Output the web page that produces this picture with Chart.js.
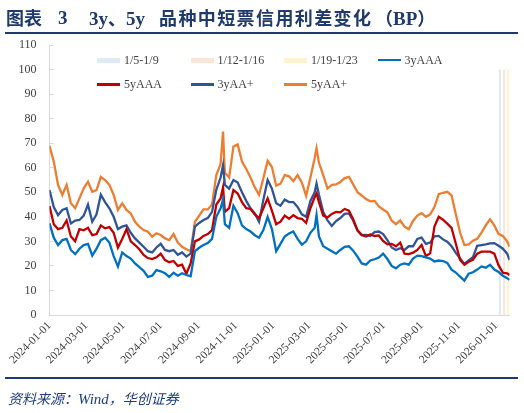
<!DOCTYPE html>
<html>
<head>
<meta charset="utf-8">
<script src="https://cdn.jsdelivr.net/npm/chart.js@4.4.1/dist/chart.umd.min.js"></script>
<style>
body { margin: 0; background: #fff; }
#wrap { position: relative; width: 524px; height: 413px; overflow: hidden; }
#wrap canvas { position: absolute; left: 0; top: 0; }
.t { position: absolute; top: 7px; line-height: 21px; font-size: 18px; font-weight: bold; color: #1f3a6b; white-space: nowrap; }
.cn { font-family: "Noto Sans CJK SC", sans-serif; }
.en { font-family: "Liberation Serif", serif; font-size: 19px; }
.rule { position: absolute; left: 5px; width: 513px; height: 2px; background: #1f3a6b; }
.lg { position: absolute; font-family: "Liberation Serif", serif; font-size: 12px; color: #404040; line-height: 14px; white-space: nowrap; }
.sw { position: absolute; width: 23px; }
#src { position: absolute; left: 8px; top: 388px; font-family: "Noto Sans CJK SC", sans-serif; font-style: italic; font-size: 14px; color: #1f3c88; white-space: nowrap; }
#src .en { font-size: 15px; font-style: italic; }
</style>
</head>
<body>
<div id="wrap">
  <canvas id="myChart" width="524" height="413"></canvas>
  <div class="t cn" style="left:6px">图表</div>
  <div class="t en" style="left:58px">3</div>
  <div class="t en" style="left:89px">3y<span class="cn" style="font-size:18px">、</span>5y</div>
  <div class="t cn" style="left:159px;letter-spacing:1.4px">品种中短票信用利差变化</div>
  <div class="t cn" style="left:375px">（<span class="en">BP</span>）</div>
  <div class="rule" style="top:32px"></div>
  <div id="legend"></div>
  <div class="rule" style="top:377px"></div>
  <div id="src">资料来源：<span class="en">Wind</span>，华创证券</div>
</div>
<script>
//Chart data, weekly readings (BP)
var dates = ['2024-01-01', '2024-01-08', '2024-01-15', '2024-01-22', '2024-01-29', '2024-02-05', '2024-02-12', '2024-02-19', '2024-02-26',
    '2024-03-04', '2024-03-11', '2024-03-18', '2024-03-25', '2024-04-01', '2024-04-08', '2024-04-15', '2024-04-22', '2024-04-29',
    '2024-05-06', '2024-05-13', '2024-05-20', '2024-05-27', '2024-06-03', '2024-06-10', '2024-06-17', '2024-06-24', '2024-07-01',
    '2024-07-08', '2024-07-15', '2024-07-22', '2024-07-29', '2024-08-05', '2024-08-12', '2024-08-19', '2024-08-26', '2024-09-02',
    '2024-09-09', '2024-09-16', '2024-09-23', '2024-09-30', '2024-10-07', '2024-10-11', '2024-10-14', '2024-10-21', '2024-10-28',
    '2024-11-04', '2024-11-11', '2024-11-18', '2024-11-25', '2024-12-02', '2024-12-09', '2024-12-16', '2024-12-23', '2024-12-30',
    '2025-01-06', '2025-01-13', '2025-01-20', '2025-01-27', '2025-02-03', '2025-02-10', '2025-02-17', '2025-02-24', '2025-03-03',
    '2025-03-10', '2025-03-13', '2025-03-17', '2025-03-24', '2025-03-31', '2025-04-07', '2025-04-14', '2025-04-21', '2025-04-28',
    '2025-05-05', '2025-05-12', '2025-05-19', '2025-05-26', '2025-06-02', '2025-06-09', '2025-06-16', '2025-06-23', '2025-06-30',
    '2025-07-07', '2025-07-14', '2025-07-21', '2025-07-28', '2025-08-04', '2025-08-11', '2025-08-18', '2025-08-25', '2025-09-01',
    '2025-09-08', '2025-09-15', '2025-09-22', '2025-09-29', '2025-10-06', '2025-10-13', '2025-10-20', '2025-10-27', '2025-11-03',
    '2025-11-10', '2025-11-17', '2025-11-24', '2025-12-01', '2025-12-08', '2025-12-15', '2025-12-22', '2025-12-29', '2026-01-05',
    '2026-01-12', '2026-01-19', '2026-01-23'];

var y3AAA = [37.3, 31.5, 28.5, 30.5, 31, 26.5, 24.8, 27, 28.5, 29, 24.2, 27, 30.5, 31.5, 29.5, 24, 19.7, 25.5, 24, 23, 21, 19.5, 18, 15.5, 16, 18.3, 17.8, 17,
    15.5, 17.2, 16, 17, 16.3, 15.8, 26, 27.4, 28.5, 29.3, 31, 40, 43.5, 47, 37, 35.5, 44.5, 41.5, 36.5, 35, 34, 32.5, 31.5, 34.6, 40, 35,
    26, 29, 32, 33.2, 34, 31, 28.7, 30, 33.5, 35.5, 40.7, 32, 28, 27, 26, 25, 26.5, 27.8, 28, 26.2, 23.8, 21, 20.5, 22.2, 22.7, 23.4, 25, 22.8, 20,
    19, 20.5, 21, 20.5, 23, 24.2, 24, 23.5, 23, 21.8, 22.2, 22, 21.2, 18.5, 17.3, 15.6, 14, 16.8, 17.4, 18.5, 19.8, 19.3, 20.5, 18.5, 17.5, 16, 15, 14.3];

var y5AAA = [44.4, 37, 35, 35.5, 38.5, 32, 30, 35, 34.5, 35.5, 32.5, 33, 36.5, 35.3, 35.8, 33.5, 27.5, 31, 35, 30, 28.5, 26.8, 24.5, 23.2, 22.8, 23.5, 25, 22.4,
    21.5, 22, 20, 20.5, 16.8, 21, 30, 30.8, 32.2, 33, 34.6, 45, 47.5, 52, 42, 43.5, 50.9, 49.5, 46, 43.5, 43.2, 41, 39.5, 43.5, 47.5, 42.5,
    37, 38, 40.5, 39.2, 40.7, 39.5, 39.2, 37.5, 43.5, 48, 49.5, 46, 40.5, 39.8, 41.2, 42, 41.8, 43.2, 42.5, 39, 34.5, 32.6, 32, 32.8, 32.2, 32.4, 30.2, 28.8, 29,
    28, 29.5, 25, 24.8, 25.4, 26.5, 28.5, 24, 25.1, 36, 40, 38.8, 37.2, 35.5, 29, 22.4, 20.5, 21.7, 22.5, 25, 25.8, 25.8, 25.8, 25, 20.2, 17.2, 17, 16.3];

var y3AAplus = [50.9, 44, 40.7, 42.8, 43.5, 37.3, 38.5, 38.7, 40.5, 45, 38, 41, 49, 46, 43.5, 40, 35, 36, 36.5, 33.5, 31.2, 29.5, 27.8, 26, 25.5, 27.5, 29, 26.5,
    26, 26.5, 24.5, 25.5, 23.8, 25, 36, 37.5, 38.7, 39.5, 42, 51, 56, 61, 53, 51.5, 55, 54, 50, 46.5, 43.5, 41.4, 38, 46.9, 55, 51.5,
    45.5, 44.5, 47, 46, 46, 44, 41, 40, 46.5, 50, 53.6, 49, 42, 38.5, 36.3, 38.3, 39.5, 41.2, 41.4, 38.5, 34.5, 32.6, 32.6, 32.2, 33.8, 34, 33, 30.5, 27.5,
    26.5, 27.2, 26.5, 28, 28, 31, 31.5, 29, 29.5, 32, 32.2, 30.8, 29.9, 28, 25.3, 23, 20.8, 22.2, 23.6, 28.2, 28.5, 28.8, 29.2, 29.3, 28.2, 27, 25, 22.4];

var y5AAplus = [68.9, 62.5, 53, 48.9, 53, 45.5, 43.5, 47.5, 51.6, 54.3, 50.2, 50.9, 56.3, 55, 53, 48.9, 42.8, 45.5, 42.8, 41.4, 38, 36, 34.6, 33.9, 31.9, 33.3, 32.6, 31.2,
    30.5, 33, 29.5, 27.8, 26.8, 26, 38, 40.5, 43, 43, 45, 57, 61.5, 74.7, 58, 56, 68.6, 69.5, 62.5, 59.5, 56, 52, 49, 55.7, 62.8, 60.3,
    52.7, 53.5, 57, 56.5, 54.5, 57, 54, 48.5, 56, 64, 67.9, 62, 57, 51.5, 53, 53.2, 54.2, 55.8, 56.3, 53.2, 50, 48.7, 47.2, 46.3, 46.5, 44.2, 43, 41.8, 38.5,
    37, 38.5, 36, 35, 38.3, 40.5, 41.5, 40, 41, 44, 49.2, 49.8, 50.2, 48.7, 41, 33.5, 28.5, 28.8, 30.3, 31, 33.6, 36.5, 39, 36.5, 33, 32.2, 30, 27.8];

//Shaded weeks
var bandLabels = ['1/5-1/9', '1/12-1/16', '1/19-1/23'];
var bandStart = ['2026-01-05', '2026-01-12', '2026-01-19'];
var bandEnd = ['2026-01-09', '2026-01-16', '2026-01-23'];
var bandTop = 100;

var tickLabels = ['2024-01-01', '2024-03-01', '2024-05-01', '2024-07-01', '2024-09-01', '2024-11-01',
    '2025-01-01', '2025-03-01', '2025-05-01', '2025-07-01', '2025-09-01', '2025-11-01', '2026-01-01'];

//x axis runs in days from the first date
function dayOf(s) {
    return Math.round((Date.parse(s) - Date.parse(dates[0])) / 86400000);
}
var tickDays = tickLabels.map(dayOf);

function toPoints(values) {
    return values.map(function (v, i) { return { x: dayOf(dates[i]), y: v }; });
}

var bandColors = ['#deebf7', '#fbe5d6', '#fff2cc'];
var lineSeries = [
    { label: '3yAAA', data: y3AAA, color: '#0070c0' },
    { label: '5yAAA', data: y5AAA, color: '#c00000' },
    { label: '3yAA+', data: y3AAplus, color: '#2f5597' },
    { label: '5yAA+', data: y5AAplus, color: '#ed7d31' }
];

var datasets = [];
lineSeries.forEach(function (s) {
    datasets.push({
        type: 'line',
        label: s.label,
        data: toPoints(s.data),
        borderColor: s.color,
        backgroundColor: s.color,
        borderWidth: 2.3,
        pointRadius: 0,
        tension: 0,
        fill: false
    });
});
bandLabels.forEach(function (b, i) {
    datasets.push({
        type: 'line',
        label: b,
        data: [{ x: dayOf(bandStart[i]), y: bandTop }, { x: dayOf(bandEnd[i]), y: bandTop }],
        borderWidth: 0,
        borderColor: 'rgba(0,0,0,0)',
        backgroundColor: bandColors[i],
        pointRadius: 0,
        fill: 'origin'
    });
});

//Legend, two rows of four
var legendItems = [
    { label: bandLabels[0], color: bandColors[0], band: true },
    { label: bandLabels[1], color: bandColors[1], band: true },
    { label: bandLabels[2], color: bandColors[2], band: true },
    { label: '3yAAA', color: '#0070c0' },
    { label: '5yAAA', color: '#c00000' },
    { label: '3yAA+', color: '#2f5597' },
    { label: '5yAA+', color: '#ed7d31' }
];
var legendHtml = '';
legendItems.forEach(function (item, i) {
    var left = 97 + (i % 4) * 93.5;
    var top = i < 4 ? 60 : 84.5;
    var h = item.band ? 5 : 2.5;
    legendHtml += '<div class="sw" style="left:' + left + 'px;top:' + (top - h / 2) + 'px;height:' + h + 'px;background:' + item.color + '"></div>';
    legendHtml += '<div class="lg" style="left:' + (left + 27) + 'px;top:' + (top - 7.5) + 'px">' + item.label + '</div>';
});
document.getElementById('legend').innerHTML = legendHtml;

var axisFont = { family: 'Liberation Serif', size: 12 };
const ctx = document.getElementById('myChart');
const myChart = new Chart(ctx, {
    data: { datasets: datasets },
    options: {
        responsive: false,
        animation: false,
        layout: { padding: { left: 0, top: 45, right: 14.4, bottom: 38 } },
        plugins: {
            legend: { display: false },
            tooltip: { enabled: false }
        },
        scales: {
            x: {
                type: 'linear',
                min: 0,
                max: dayOf('2026-01-23'),
                afterBuildTicks: function (scale) {
                    scale.ticks = tickDays.map(function (d) { return { value: d }; });
                },
                afterFit: function (scale) { scale.height = 60; },
                ticks: {
                    autoSkip: false,
                    minRotation: 45,
                    maxRotation: 45,
                    padding: 4,
                    color: '#404040',
                    font: { family: 'Liberation Serif', size: 11.5 },
                    callback: function (v) { return tickLabels[tickDays.indexOf(v)]; }
                },
                grid: { display: true, drawOnChartArea: false, drawTicks: false },
                border: { color: '#d9d9d9', width: 1 }
            },
            y: {
                min: 0,
                max: 110,
                afterFit: function (scale) { scale.width = 49.5; },
                ticks: { stepSize: 10, padding: 17, color: '#404040', font: axisFont },
                grid: { display: true, drawOnChartArea: false, drawTicks: true, tickLength: -4, color: '#d9d9d9' },
                border: { color: '#d9d9d9', width: 1 }
            }
        }
    }
});
</script>
</body>
</html>
